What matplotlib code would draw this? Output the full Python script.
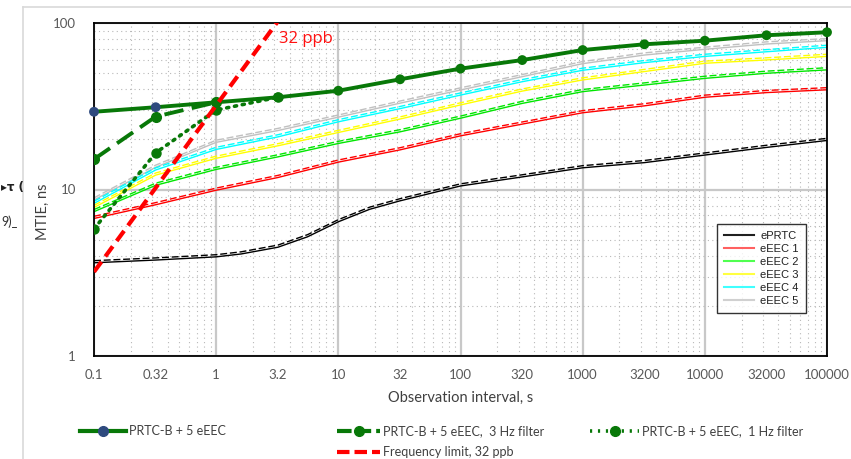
import matplotlib
matplotlib.use("Agg")
import matplotlib.pyplot as plt
from matplotlib.lines import Line2D
from matplotlib.ticker import LogLocator, NullFormatter, FuncFormatter
import numpy as np

plt.rcParams['font.family'] = ['Lato', 'DejaVu Sans']

# ---------------- data ----------------
tau = [0.1, 0.32, 1, 3.2, 10, 32, 100, 320, 1000, 3200, 10000, 32000, 100000]
tau_labels = ['0.1', '0.32', '1', '3.2', '10', '32', '100', '320', '1000',
              '3200', '10000', '32000', '100000']

# inner (background) curves
eeec5 = [8.65, 13.6, 19.2, 22.6, 27.2, 33.0, 39.6, 47.6, 57.0, 64.2, 69.5, 74.8, 78.3]
eeec4 = [8.25, 13.1, 17.4, 20.7, 25.5, 30.6, 36.9, 44.4, 52.0, 57.8, 63.0, 67.2, 71.4]
eeec3 = [7.8, 12.2, 15.4, 18.3, 22.0, 26.5, 32.2, 39.0, 45.5, 51.1, 57.3, 60.0, 63.0]
eeec2 = [7.36, 10.6, 13.2, 15.7, 18.9, 22.2, 26.8, 32.9, 38.7, 42.4, 46.5, 49.9, 52.3]
eeec1 = [6.7, 8.1, 9.9, 11.8, 14.6, 17.3, 21.0, 24.7, 28.9, 31.8, 35.8, 38.2, 39.7]
eprtc_tau = [0.1, 0.32, 1, 1.6, 3.2, 5.6, 10, 18, 32, 100, 320, 1000, 3200, 10000, 32000, 100000]
eprtc = [3.63, 3.77, 3.94, 4.1, 4.5, 5.2, 6.4, 7.6, 8.55, 10.5, 11.9, 13.5, 14.5, 16.1, 17.9, 19.7]

# outer series
prtcb = [29.3, 31.2, 33.4, 35.8, 39.2, 45.9, 53.2, 59.9, 68.8, 74.5, 78.3, 84.4, 88.0]
f3_tau = [0.1, 0.32, 1]
f3 = [15.2, 27.4, 33.4]
f1_tau = [0.1, 0.32, 1, 3.2]
f1 = [5.8, 16.6, 30.0, 35.8]
flim_tau = [0.1, 3.2]
flim = [3.2, 102.4]

# ---------------- figure ----------------
W, H = 851, 459
fig = plt.figure(figsize=(W / 100, H / 100), dpi=100)


def fx(px):
    return px / W


def fy(py):
    return 1 - py / H


L, R, T, B = 94, 827, 23, 356
ax = fig.add_axes([fx(L), fy(B), (R - L) / W, (B - T) / H])
ax.set_xscale('log')
ax.set_yscale('log')
ax.set_xlim(0.1, 100000)
ax.set_ylim(1, 100)

# grid
ax.xaxis.set_major_locator(LogLocator(base=10, numticks=20))
ax.xaxis.set_minor_locator(LogLocator(base=10, subs=np.arange(2, 10), numticks=20))
ax.yaxis.set_major_locator(LogLocator(base=10, numticks=20))
ax.yaxis.set_minor_locator(LogLocator(base=10, subs=np.arange(2, 10), numticks=20))
ax.xaxis.set_major_formatter(NullFormatter())
ax.xaxis.set_minor_formatter(NullFormatter())
ax.yaxis.set_minor_formatter(NullFormatter())
ax.yaxis.set_major_formatter(FuncFormatter(lambda v, p: f'{v:g}'))
ax.grid(which='major', color='#c8c8c8', lw=1.6, ls='-')
ax.grid(which='minor', color='#b8b8b8', lw=0.8, ls=(0, (1, 3)))
ax.set_axisbelow(True)
ax.tick_params(which='both', length=0)
ax.tick_params(axis='y', labelsize=9.5, labelcolor='#595959', pad=13)

for s in ax.spines.values():
    s.set_color('black')
    s.set_linewidth(1.3)

# x labels at half-decades
for t, lab in zip(tau, tau_labels):
    ax.text(t, -0.057, lab, transform=ax.get_xaxis_transform(), ha='center',
            va='center', fontsize=9.5, color='#595959', clip_on=False)

# inner curves: solid + dashed twin
off = 1.03
inner = [
    (eprtc_tau, eprtc, 'black', 'ePRTC', '#202020'),
    (tau, eeec1, '#ff0000', 'eEEC 1', '#ff6060'),
    (tau, eeec2, '#00e600', 'eEEC 2', '#50ff50'),
    (tau, eeec3, '#ffff00', 'eEEC 3', '#ffff40'),
    (tau, eeec4, '#00ffff', 'eEEC 4', '#40ffff'),
    (tau, eeec5, '#c0c0c0', 'eEEC 5', '#d0d0d0'),
]
handles = []
for xs, ys, c, lab, lc in inner[::-1]:
    ax.plot(xs, ys, color=c, lw=1.0, zorder=2)
    ax.plot(xs, np.array(ys) * off, color=c, lw=1.0, ls=(0, (5, 2)), zorder=2)
for xs, ys, c, lab, lc in inner:
    handles.append(Line2D([], [], color=lc, lw=1.5, label=lab))

leg = ax.legend(handles=handles, loc='upper left', bbox_to_anchor=(0.850, 0.396),
                borderaxespad=0, fancybox=False, frameon=True, edgecolor='black',
                handlelength=2.7, handletextpad=0.6, labelspacing=0.28,
                borderpad=0.6, prop={'family': ['Liberation Sans', 'DejaVu Sans'], 'size': 8})
leg.get_frame().set_linewidth(1.0)
for t in leg.get_texts():
    t.set_color('#202020')
leg.set_zorder(3)

# outer series
green = '#087808'
navy = '#2E4A7E'
mcol = [navy, navy] + [green] * (len(prtcb) - 2)
ax.plot(f1_tau, f1, color=green, lw=2.6, ls=(0, (0.6, 1.6)), dash_capstyle='round',
        marker='o', ms=6.5, mfc=green, mec=green, zorder=5)
ax.plot(f3_tau, f3, color=green, lw=2.8, ls=(0, (5, 2.2)), marker='o', ms=7,
        mfc=green, mec=green, zorder=5)
ax.plot(tau, prtcb, color=green, lw=2.8, zorder=6)
ax.scatter(tau, prtcb, s=50, c=mcol, zorder=7, clip_on=False, linewidths=0)
ax.plot(flim_tau, flim, color='#ff0000', lw=3, ls=(0, (3, 1.6)), zorder=8)
ax.text(3.25, 0.952, '32 ppb', transform=ax.get_xaxis_transform(), color='#ff1010',
        fontsize=12, ha='left', va='center', family=['Open Sans', 'DejaVu Sans'])

# axis titles
fig.text(fx(461), fy(398), 'Observation interval, s', ha='center', va='center',
         fontsize=10.5, color='#404040')
fig.text(fx(43), fy(212), 'MTIE, ns', ha='center', va='center', rotation=90,
         fontsize=10.5, color='#404040')

# outer chart border
fig.add_artist(Line2D([fx(23), fx(851)], [fy(7), fy(7)], transform=fig.transFigure,
                      color='#d9d9d9', lw=1.2))
fig.add_artist(Line2D([fx(23), fx(23)], [fy(7), fy(459)], transform=fig.transFigure,
                      color='#d9d9d9', lw=1.2))

# fragments at far left
fig.text(fx(1), fy(188), '▸τ (', ha='left', va='center', fontsize=8.5,
         fontweight='bold', color='#202020', family=['DejaVu Sans'])
fig.text(fx(1), fy(222), '9)_', ha='left', va='center', fontsize=9,
         color='#303030')

# bottom legend


def leg_entry(x0, x1, y, text, ls, lw, color, mcolor=None, ms=7):
    xs = [fx(x0), fx((x0 + x1) / 2), fx(x1)]
    ys = [fy(y)] * 3
    ln = Line2D(xs, ys, transform=fig.transFigure, color=color, lw=lw, ls=ls,
                dash_capstyle='round' if ls == ':' else 'butt')
    fig.add_artist(ln)
    if mcolor is not None:
        fig.add_artist(Line2D([xs[1]], [ys[1]], transform=fig.transFigure, ls='none',
                              marker='o', ms=ms, mfc=mcolor, mec=mcolor))
    fig.text(fx(x1 + 3), fy(y), text, ha='left', va='center', fontsize=9,
             color='#404040')


leg_entry(80, 126, 431, 'PRTC-B + 5 eEEC', '-', 3, green, navy)
leg_entry(337, 380, 431, 'PRTC-B + 5 eEEC,  3 Hz filter', (0, (3.5, 1.2)), 3, green, green)
leg_entry(590, 639, 431, 'PRTC-B + 5 eEEC,  1 Hz filter', (0, (0.6, 1.6)), 2.6, green, green)
leg_entry(337, 380, 452, 'Frequency limit, 32 ppb', (0, (3, 1.2)), 3, '#ff0000')

fig.savefig('out.png', dpi=100)
